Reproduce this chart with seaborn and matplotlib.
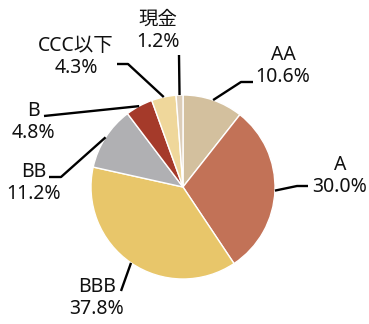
import numpy as np
import matplotlib
matplotlib.use("Agg")
import matplotlib.pyplot as plt
import seaborn as sns

# Portfolio composition by credit rating (%)
categories = ["AA", "A", "BBB", "BB", "B", "CCC以下", "現金"]
shares = [10.6, 30.0, 37.8, 11.2, 4.8, 4.3, 1.2]
pct_labels = ["10.6%", "30.0%", "37.8%", "11.2%", "4.8%", "4.3%", "1.2%"]
colors = ["#d3c09e", "#c27257", "#e8c66a", "#b0b0b3", "#a53a2a", "#efd79b", "#dccdb8"]

sns.set_theme(style="white")
plt.rcParams["font.family"] = ["Noto Sans", "Noto Sans CJK JP", "DejaVu Sans"]

W, H = 369, 324
fig = plt.figure(figsize=(W / 100, H / 100), dpi=100)
ax = fig.add_axes([0, 0, 1, 1])


def P(x, y):
    """Convert top-left pixel layout coordinates to data coordinates."""
    return x, H - y


cx, cy = P(183, 187)
R = 92
wedges, _ = ax.pie(shares, colors=colors, startangle=90, counterclock=False,
                   center=(cx, cy), radius=R, frame=True,
                   wedgeprops=dict(edgecolor="white", linewidth=1))
ax.set_xlim(0, W)
ax.set_ylim(0, H)
ax.set_aspect("equal")
ax.axis("off")

# label block centres, leader elbow and end points (pixel layout)
layout = {
    "AA":     dict(text=(283, 66), path=[(241, 82), (253, 82)]),
    "A":      dict(text=(340, 176), path=[(297, 186), (308, 186)]),
    "BBB":    dict(text=(97, 298), path=[(121, 291)]),
    "BB":     dict(text=(34, 183), path=[(61, 177), (49, 177)]),
    "B":      dict(text=(33, 122), path=[(44, 116)]),
    "CCC以下": dict(text=(76, 57), path=[(128, 64), (117, 64)]),
    "現金":    dict(text=(158, 31), path=[(179, 55)]),
}

for w, name, pct in zip(wedges, categories, pct_labels):
    mid = np.deg2rad((w.theta1 + w.theta2) / 2)
    sx, sy = cx + R * np.cos(mid), cy + R * np.sin(mid)
    L = layout[name]
    pts = [(sx, sy)] + [P(*p) for p in L["path"]]
    xs, ys = zip(*pts)
    ax.plot(xs, ys, color="black", lw=1.7, solid_capstyle="butt", zorder=3)
    tx, ty = P(*L["text"])
    ax.text(tx, ty, f"{name}\n{pct}", ha="center", va="center",
            fontsize=14, linespacing=1.1, color="#111111")

fig.savefig("out.png", dpi=100)
